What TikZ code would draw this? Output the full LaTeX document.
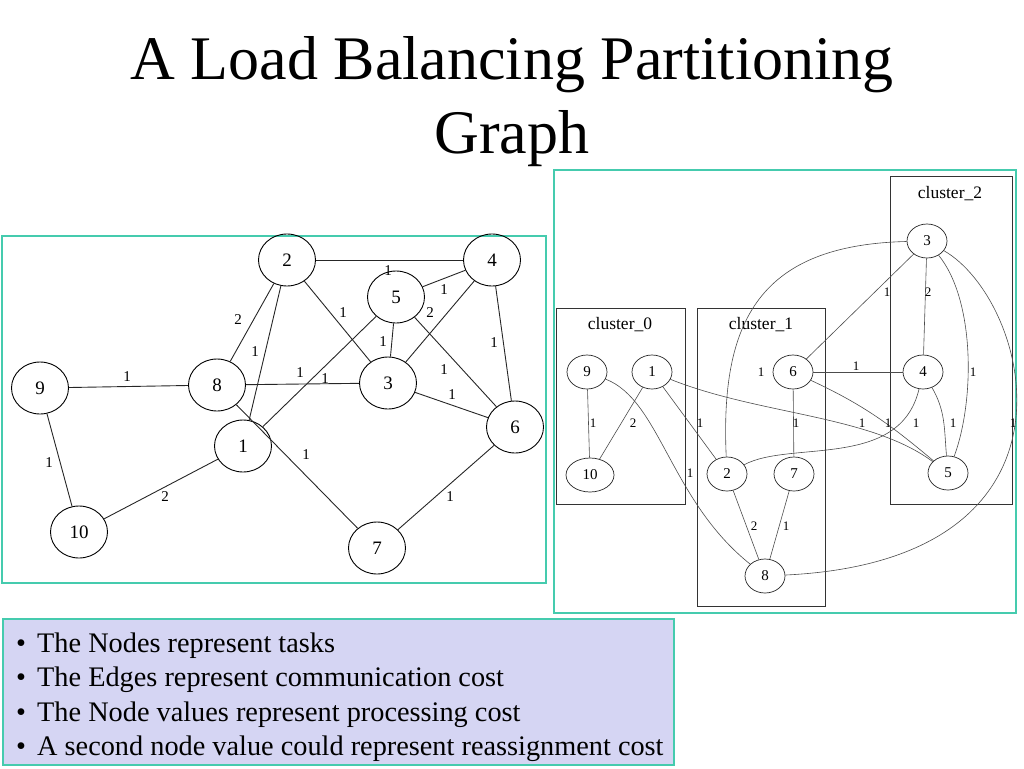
\documentclass[tikz,border=0pt]{standalone}
\usepackage{fontspec}
\setmainfont{Liberation Serif}
\usetikzlibrary{shapes.geometric}
\definecolor{vien}{HTML}{45CBAE}
\definecolor{nen}{HTML}{D5D5F3}
\begin{document}
\begin{tikzpicture}[x=1pt,y=-1pt]
\tikzset{n/.style={draw,ellipse,minimum width=57pt,minimum height=52pt,inner sep=0pt,line width=0.9pt,font=\fontsize{19}{19}\selectfont},
m/.style={draw=black!85,ellipse,minimum width=40pt,minimum height=34pt,inner sep=0pt,line width=0.7pt,font=\fontsize{15}{15}\selectfont},
w/.style={inner sep=0pt,font=\fontsize{15}{15}\selectfont},
v/.style={inner sep=0pt,font=\fontsize{13}{13}\selectfont},
k/.style={draw=black!85,line width=0.9pt},
e/.style={draw=black!70,line width=0.6pt},
c/.style={draw=black!80,line width=0.9pt}}
\useasboundingbox (0,0) rectangle (1024,768);
%%title
\path(512,79)node[anchor=base,font=\fontsize{62}{62}\selectfont](t1){A Load Balancing Partitioning}
(512,153)node[anchor=base,font=\fontsize{62}{62}\selectfont](t2){Graph};
%%left graph
\draw[vien,line width=1.2pt](2,236)rectangle(546,583);
\path(40,388)node[n](L9){9}(217,385)node[n](L8){8}(243,446)node[n](L1){1}(79,532)node[n](L10){10}
(287,260)node[n](L2){2}(492,260)node[n](L4){4}(396,297)node[n](L5){5}(388,383)node[n](L3){3}
(515,427)node[n](L6){6}(377,548)node[n](L7){7};
\foreach \x/\y/\z/\p/\q in {
L9/L8/1/127/377,L9/L10/1/49/463,L10/L1/2/165/497,
L8/L2/2/238/320,L1/L2/1/255/352,L2/L4/1/388/271,
L2/L3/1/343/313,L5/L4/1/444/290,L4/L3/2/430/313,
L5/L3/1/383/342,L5/L6/1/444/370,L3/L6/1/452/395,
L4/L6/1/494/343,L1/L5/1/300/373,L8/L3/1/325/379,
L8/L7/1/306/455,L6/L7/1/450/497}
{\draw[k](\x)--(\y);\node[w](w\x\y) at (\p,\q){\z};}
%%right graph
\draw[vien,line width=1.2pt](554,170)rectangle(1016,613);
\draw[c](556,308)rectangle(685,504);
\draw[c](697,308)rectangle(825,606);
\draw[c](890,176)rectangle(1012,504);
\path(620,325)node[font=\fontsize{17.5}{17.5}\selectfont](c0){cluster\_0}
(761,325)node[font=\fontsize{17.5}{17.5}\selectfont](c1){cluster\_1}
(950,194)node[font=\fontsize{17.5}{17.5}\selectfont](c2){cluster\_2};
\path(587,372)node[m](r9){9}(652,372)node[m](r1){1}(590,475)node[m,minimum width=48pt](r10){10}
(793,372)node[m](r6){6}(727,474)node[m](r2){2}(794,474)node[m](r7){7}(765,576)node[m](r8){8}
(927,241)node[m](r3){3}(923,372)node[m](r4){4}(948,473)node[m](r5){5};
\foreach \x/\y/\z/\p/\q in {
r9/r10/1/593/423,r1/r10/2/633/423,r1/r2/1/700/423,
r6/r7/1/796/423,r2/r8/2/754/526,r7/r8/1/786/526,
r6/r4/1/856/366,r6/r3/1/887/292,r3/r4/2/928/292}
{\draw[e](\x)--(\y);\node[v](v\x\y) at (\p,\q){\z};}
\draw[e](r2)..controls(720,320)and(760,245)..(r3);
\draw[e](r1)..controls(760,415)and(870,415)..(r5);
\draw[e](r6)to[out=-25,in=140](r5);
\draw[e](r9)..controls(660,400)and(670,500)..(r8);
\draw[e](r2)..controls(790,440)and(900,470)..(r4);
\draw[e](r8)..controls(1100,560)and(1030,300)..(r3);
\draw[e](r3)..controls(975,300)and(975,400)..(r5);
\draw[e](r4)to[out=-60,in=95](r5);
\path(761,372)node[v](vr2r3){1}(888,423)node[v](vr1r5){1}(862,423)node[v](vr6r5){1}
(690,473)node[v](vr9r8){1}(916,423)node[v](vr2r4){1}(1013,423)node[v](vr8r3){1}
(973,372)node[v](vr3r5){1}(953,423)node[v](vr4r5){1};
%%bullet box
\draw[vien,fill=nen,line width=1.2pt](3,619)rectangle(674,765);
\foreach \i/\s in {0/The Nodes represent tasks,1/The Edges represent communication cost,
2/The Node values represent processing cost,3/A second node value could represent reassignment cost}
{\node[anchor=base,inner sep=0pt,font=\fontsize{28.3}{28.3}\selectfont](d\i) at (21,652+34.5*\i){\textbullet};
\node[anchor=base west,inner sep=0pt,font=\fontsize{28.3}{28.3}\selectfont](b\i) at (37,652+34.5*\i){\s};}
\end{tikzpicture}
\end{document}
